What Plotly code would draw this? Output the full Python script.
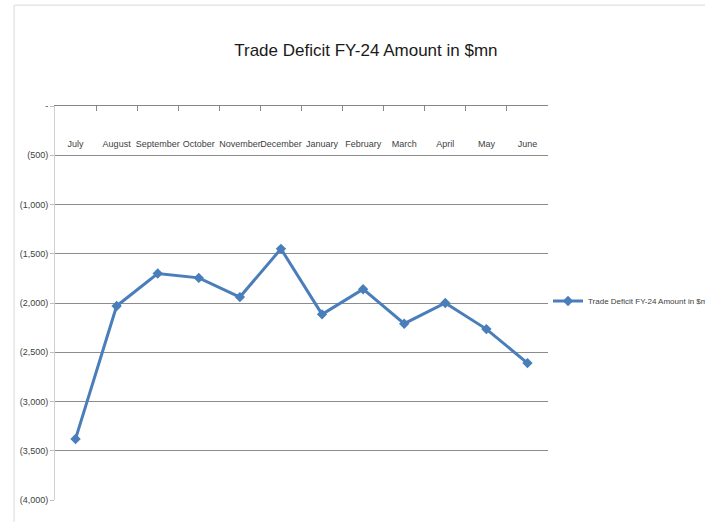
import plotly.graph_objects as go

# Trade deficit FY-24, monthly, $mn
months = ["July", "August", "September", "October", "November", "December",
          "January", "February", "March", "April", "May", "June"]
deficit = [-3380, -2030, -1700, -1745, -1940, -1450,
           -2115, -1860, -2210, -2000, -2265, -2610]

y_ticks = [0, -500, -1000, -1500, -2000, -2500, -3000, -3500, -4000]
y_tick_text = ["-", "(500)", "(1,000)", "(1,500)", "(2,000)", "(2,500)",
               "(3,000)", "(3,500)", "(4,000)"]

series_name = "Trade Deficit FY-24 Amount in $mn"
font_family = "Liberation Sans, Arial, sans-serif"
cat_range = [-0.5, len(months) - 0.5]

fig = go.Figure()

fig.add_trace(go.Scatter(
    x=months,
    y=deficit,
    mode="lines+markers",
    name=series_name,
    line=dict(color="#4a7ebb", width=3),
    marker=dict(symbol="diamond", size=8, color="#4a7ebb"),
))

# invisible helper on the second x axis, only so its category labels get drawn
fig.add_trace(go.Scatter(
    x=months,
    y=deficit,
    xaxis="x2",
    mode="none",
    showlegend=False,
    hoverinfo="skip",
))

fig.update_layout(
    width=705,
    height=522,
    margin=dict(l=55, r=157, t=106, b=22, autoexpand=False),
    paper_bgcolor="white",
    plot_bgcolor="white",
    font=dict(family=font_family, color="#404040", size=9),
    title=dict(
        text=series_name,
        x=0.519, xanchor="center",
        y=0.904, yanchor="middle",
        font=dict(family=font_family, size=17, color="#1a1a1a"),
    ),
    showlegend=True,
    legend=dict(
        x=1.0, xanchor="left",
        y=0.505, yanchor="middle",
        font=dict(family=font_family, size=8, color="#404040"),
        bgcolor="rgba(0,0,0,0)",
        itemwidth=30,
    ),
    # zero line on top with small ticks at the category boundaries
    xaxis=dict(
        type="category",
        range=cat_range,
        side="top",
        showline=True,
        linecolor="#868686",
        linewidth=1,
        ticks="inside",
        ticklen=5,
        tickcolor="#868686",
        tickson="boundaries",
        showticklabels=False,
        showgrid=False,
    ),
    # category labels sit inside the plot, just under the zero line
    xaxis2=dict(
        type="category",
        overlaying="x",
        range=cat_range,
        anchor="free",
        position=0.922,
        side="bottom",
        showline=False,
        ticks="",
        showgrid=False,
        tickangle=0,
        tickfont=dict(size=9, color="#404040"),
    ),
    yaxis=dict(
        range=[-4000, 0],
        tickvals=y_ticks,
        ticktext=y_tick_text,
        showgrid=True,
        gridcolor="#8c8c8c",
        gridwidth=1,
        zeroline=False,
        showline=True,
        linecolor="#d0d0d0",
        ticks="outside",
        ticklen=4,
        tickcolor="#bfbfbf",
        tickfont=dict(size=9, color="#404040"),
    ),
)

# light chart-area border, as in the spreadsheet export
fig.add_shape(
    type="rect", xref="paper", yref="paper",
    x0=-0.083, x1=1.5, y0=-0.2, y1=1.256,
    line=dict(color="#d9d9d9", width=1),
    layer="below",
)

# drop the browser's default body margin so the figure sits at the page corner
fig.write_html("out.html", config={"displayModeBar": False},
               post_script="document.body.style.margin='0';")
